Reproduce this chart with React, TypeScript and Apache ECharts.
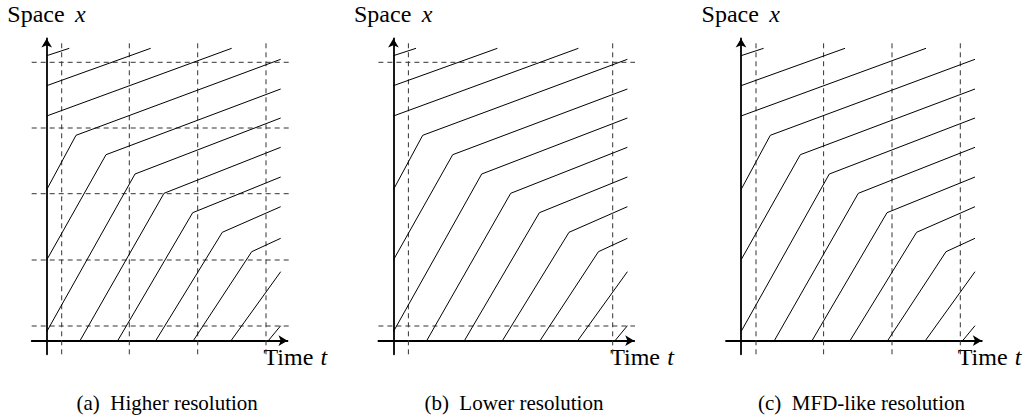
import React, { useEffect, useRef } from "react";
import * as echarts from "echarts";

// Vehicle trajectories: [time t, space x] points (arbitrary units)
const trajectory01 = [[0, 285], [22.6, 292.4]];
const trajectory02 = [[0, 255], [104, 292.4]];
const trajectory03 = [[0, 224.7], [185, 292.4]];
const trajectory04 = [[0, 151], [29.3, 205.4], [234, 281.4]];
const trajectory05 = [[0, 80.7], [59.3, 186], [234, 251.7]];
const trajectory06 = [[0, 9], [88.3, 166.7], [234, 222.7]];
const trajectory07 = [[33.3, 0], [117.3, 147.4], [234, 193.4]];
const trajectory08 = [[71, 0], [146, 128], [234, 163.7]];
const trajectory09 = [[109, 0], [175.6, 108.4], [234, 134]];
const trajectory10 = [[146.6, 0], [205, 89], [234, 102.4]];
const trajectory11 = [[184.3, 0], [234, 69]];
const trajectory12 = [[221.6, 0], [234, 15]];
const trajectories = [
  trajectory01, trajectory02, trajectory03, trajectory04, trajectory05, trajectory06,
  trajectory07, trajectory08, trajectory09, trajectory10, trajectory11, trajectory12,
];

// Discretisation (dashed) lines per panel
const timeBoundsA = [15, 82.6, 151, 219.3];
const spaceBoundsA = [14.7, 80.7, 147, 212.7, 278.4];
const timeBoundsB = [15, 219.3];
const spaceBoundsB = [14.7, 278.4];
const timeBoundsC = [15, 82.6, 151, 219.3];
const spaceBoundsC: number[] = [];

const captions = ["(a)  Higher resolution", "(b)  Lower resolution", "(c)  MFD-like resolution"];
const xAxisLabel = "Time";
const xAxisSymbol = "t";
const yAxisLabel = "Space";
const yAxisSymbol = "x";

// Axis extents
const tMin = -15;
const tMax = 240.8;
const sMin = -13.6;
const sMax = 302.2;
const dashTop = 301;
const dashRight = 248.3;

const FONT = "'Liberation Serif', 'Times New Roman', serif";

export default function App() {
  const ref = useRef<HTMLDivElement>(null);

  useEffect(() => {
    if (!ref.current) return;
    const chart = echarts.init(ref.current, null, { renderer: "svg" });

    const panels = [
      { dx: 0, times: timeBoundsA, spaces: spaceBoundsA },
      { dx: 346.7, times: timeBoundsB, spaces: spaceBoundsB },
      { dx: 694.3, times: timeBoundsC, spaces: spaceBoundsC },
    ];

    const grid: any[] = [];
    const xAxis: any[] = [];
    const yAxis: any[] = [];
    const series: any[] = [];
    const graphic: any[] = [];

    const axisLine = {
      show: true,
      onZero: true,
      symbol: ["none", "arrow"],
      symbolSize: [8, 9],
      lineStyle: { color: "#000", width: 1.8 },
    };

    const label = (text: string, x: number, y: number, size: number, italic: boolean, align = "left") => ({
      type: "text",
      x,
      y,
      style: {
        text,
        fontFamily: FONT,
        fontSize: size,
        fontStyle: italic ? "italic" : "normal",
        fill: "#000",
        align,
        verticalAlign: "middle",
        lineHeight: Math.round(size * 0.7),
      },
    });

    panels.forEach((p, i) => {
      grid.push({
        left: 31.7 + p.dx,
        top: 340.7 - sMax,
        width: tMax - tMin,
        height: sMax - sMin,
        containLabel: false,
      });
      xAxis.push({
        type: "value",
        gridIndex: i,
        min: tMin,
        max: tMax,
        axisLine,
        axisTick: { show: false },
        axisLabel: { show: false },
        splitLine: { show: false },
      });
      yAxis.push({
        type: "value",
        gridIndex: i,
        min: sMin,
        max: sMax,
        axisLine,
        axisTick: { show: false },
        axisLabel: { show: false },
        splitLine: { show: false },
      });

      const dashStyle = { color: "#333", width: 1, type: [5, 4] };
      p.times.forEach((t) => {
        series.push({
          type: "line",
          xAxisIndex: i,
          yAxisIndex: i,
          data: [[t, sMin], [t, dashTop]],
          symbol: "none",
          silent: true,
          clip: false,
          lineStyle: dashStyle,
          z: 1,
        });
      });
      p.spaces.forEach((s) => {
        series.push({
          type: "line",
          xAxisIndex: i,
          yAxisIndex: i,
          data: [[tMin, s], [dashRight, s]],
          symbol: "none",
          silent: true,
          clip: false,
          lineStyle: dashStyle,
          z: 1,
        });
      });
      trajectories.forEach((tr) => {
        series.push({
          type: "line",
          xAxisIndex: i,
          yAxisIndex: i,
          data: tr,
          symbol: "none",
          silent: true,
          clip: false,
          lineStyle: { color: "#000", width: 1 },
          z: 2,
        });
      });

      graphic.push(label(yAxisLabel, 7.3 + p.dx, 13.5, 24, false));
      graphic.push(label(yAxisSymbol, 75 + p.dx, 13.5, 24, true));
      graphic.push(label(xAxisLabel, 263.5 + p.dx, 357, 24, false));
      graphic.push(label(xAxisSymbol, 320.5 + p.dx, 357, 24, true));
      graphic.push(label(captions[i], 167.2 + p.dx, 403, 21, false, "center"));
    });

    chart.setOption({
      animation: false,
      backgroundColor: "#fff",
      grid,
      xAxis,
      yAxis,
      series,
      graphic,
    });

    return () => chart.dispose();
  }, []);

  return (
    <div
      ref={ref}
      style={{ position: "fixed", left: 0, top: 0, width: 1030, height: 419 }}
    />
  );
}
